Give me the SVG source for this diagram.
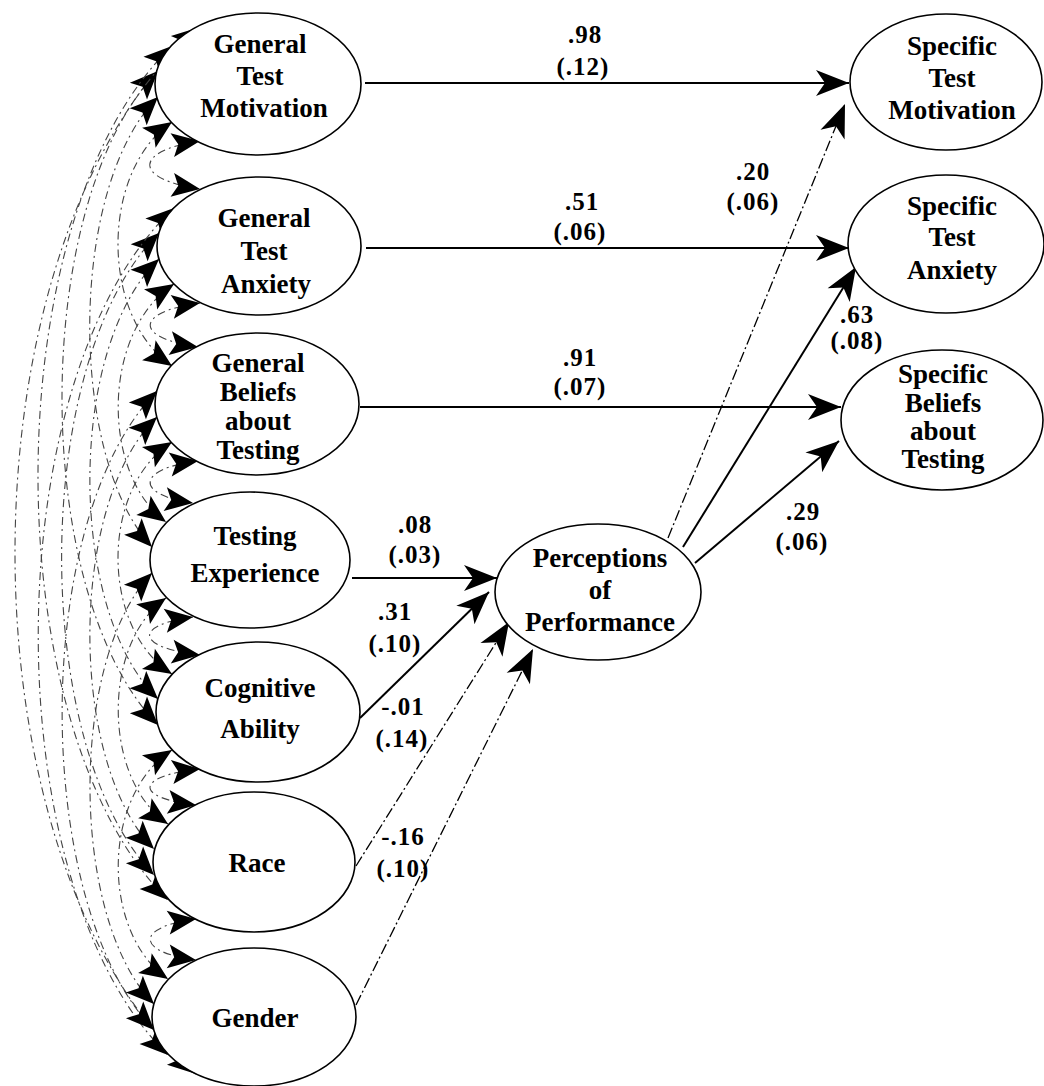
<svg xmlns="http://www.w3.org/2000/svg" width="1044" height="1086" viewBox="0 0 1044 1086">
<style>
.node ellipse{fill:#fff;stroke:#000;stroke-width:1.6}
.node text,.lbl{font-family:"Liberation Serif","Times New Roman",serif;font-weight:bold;fill:#000;text-anchor:middle}
.node text{font-size:27px}
.lbl{font-size:25px;letter-spacing:1px}
.path{fill:none;stroke:#000;stroke-width:2}
.thin{fill:none;stroke:#000;stroke-width:1.3;stroke-dasharray:11 3 2 3}
.cor{fill:none;stroke:#444;stroke-width:1.1;stroke-dasharray:8 4 2 4}
</style>
<defs>
<marker id="ah" markerUnits="userSpaceOnUse" markerWidth="36" markerHeight="28" viewBox="0 0 36 28" refX="34" refY="14" orient="auto-start-reverse">
<path d="M34,14 L1,1 L10,14 L1,27 Z" fill="#000"/>
</marker>
<marker id="ah2" markerUnits="userSpaceOnUse" markerWidth="30" markerHeight="26" viewBox="0 0 30 26" refX="29" refY="13" orient="auto-start-reverse">
<path d="M29,13 L1,1 L7,13 L1,25 Z" fill="#000"/>
</marker>
</defs>
<rect width="1044" height="1086" fill="#fff"/>

<g id="connectors">
<g id="correlations">
<path class="cor" marker-start="url(#ah2)" marker-end="url(#ah2)" d="M200,141 C133,151 133,179 200,189"/>
<path class="cor" marker-start="url(#ah2)" marker-end="url(#ah2)" d="M172,122 C100,171 100,317 172,366"/>
<path class="cor" marker-start="url(#ah2)" marker-end="url(#ah2)" d="M158,97 C68,187 68,457 152,547"/>
<path class="cor" marker-start="url(#ah2)" marker-end="url(#ah2)" d="M158,71 C30,202 30,594 158,725"/>
<path class="cor" marker-start="url(#ah2)" marker-end="url(#ah2)" d="M172,46 C-6,217 -6,729 168,900"/>
<path class="cor" marker-start="url(#ah2)" marker-end="url(#ah2)" d="M200,27 C-46,236 -46,865 196,1074"/>
<path class="cor" marker-start="url(#ah2)" marker-end="url(#ah2)" d="M200,303 C134,312 134,338 198,347"/>
<path class="cor" marker-start="url(#ah2)" marker-end="url(#ah2)" d="M174,284 C101,332 101,474 166,522"/>
<path class="cor" marker-start="url(#ah2)" marker-end="url(#ah2)" d="M159,259 C67,347 67,611 158,699"/>
<path class="cor" marker-start="url(#ah2)" marker-end="url(#ah2)" d="M159,233 C30,361 30,747 154,875"/>
<path class="cor" marker-start="url(#ah2)" marker-end="url(#ah2)" d="M174,208 C-6,377 -6,886 168,1055"/>
<path class="cor" marker-start="url(#ah2)" marker-end="url(#ah2)" d="M198,461 C135,469 135,495 193,503"/>
<path class="cor" marker-start="url(#ah2)" marker-end="url(#ah2)" d="M172,442 C100,488 100,628 172,674"/>
<path class="cor" marker-start="url(#ah2)" marker-end="url(#ah2)" d="M157,417 C68,503 68,763 154,849"/>
<path class="cor" marker-start="url(#ah2)" marker-end="url(#ah2)" d="M157,391 C31,519 31,902 154,1030"/>
<path class="cor" marker-start="url(#ah2)" marker-end="url(#ah2)" d="M193,617 C134,625 134,647 200,655"/>
<path class="cor" marker-start="url(#ah2)" marker-end="url(#ah2)" d="M166,598 C102,643 102,779 168,824"/>
<path class="cor" marker-start="url(#ah2)" marker-end="url(#ah2)" d="M152,573 C69,659 69,918 154,1004"/>
<path class="cor" marker-start="url(#ah2)" marker-end="url(#ah2)" d="M200,769 C134,776 134,798 196,805"/>
<path class="cor" marker-start="url(#ah2)" marker-end="url(#ah2)" d="M172,750 C101,796 101,933 168,979"/>
<path class="cor" marker-start="url(#ah2)" marker-end="url(#ah2)" d="M196,919 C135,927 135,952 196,960"/>
</g>
<g id="paths">
<path class="path" marker-end="url(#ah)" d="M365,83 L849,83"/>
<path class="path" marker-end="url(#ah)" d="M366,248 L849,248"/>
<path class="path" marker-end="url(#ah)" d="M360,407 L841,407"/>
<path class="path" marker-end="url(#ah)" d="M352,578 L497,578"/>
<path class="path" marker-end="url(#ah)" d="M360,718 L489,592"/>
<path class="thin" marker-end="url(#ah)" d="M356,866 L509,622"/>
<path class="thin" marker-end="url(#ah)" d="M356,1005 L533,649"/>
<path class="thin" marker-end="url(#ah)" d="M668,538 L845,104"/>
<path class="path" marker-end="url(#ah)" d="M683,547 L856,267"/>
<path class="path" marker-end="url(#ah)" d="M695,563 L839,441"/>
</g>
<g id="labels">
<text class="lbl" x="585" y="43">.98</text><text class="lbl" x="583" y="75">(.12)</text>
<text class="lbl" x="582" y="210">.51</text><text class="lbl" x="580" y="240">(.06)</text>
<text class="lbl" x="580" y="366">.91</text><text class="lbl" x="580" y="395">(.07)</text>
<text class="lbl" x="753" y="180">.20</text><text class="lbl" x="753" y="210">(.06)</text>
<text class="lbl" x="857" y="323">.63</text><text class="lbl" x="857" y="349">(.08)</text>
<text class="lbl" x="803" y="520">.29</text><text class="lbl" x="802" y="550">(.06)</text>
<text class="lbl" x="415" y="533">.08</text><text class="lbl" x="415" y="563">(.03)</text>
<text class="lbl" x="395" y="620">.31</text><text class="lbl" x="395" y="652">(.10)</text>
<text class="lbl" x="403" y="715">-.01</text><text class="lbl" x="402" y="747">(.14)</text>
<text class="lbl" x="403" y="845">-.16</text><text class="lbl" x="403" y="877">(.10)</text>
</g>
</g>

<g id="general-test-motivation" class="node"><ellipse cx="258" cy="84" rx="103" ry="71"/>
<text x="260" y="53">General</text><text x="260" y="85">Test</text><text x="264" y="117">Motivation</text></g>
<g id="general-test-anxiety" class="node"><ellipse cx="259" cy="246" rx="102" ry="69"/>
<text x="264" y="227">General</text><text x="264" y="260">Test</text><text x="266" y="293">Anxiety</text></g>
<g id="general-beliefs" class="node"><ellipse cx="257" cy="404" rx="102" ry="71"/>
<text x="258" y="372">General</text><text x="258" y="401">Beliefs</text><text x="258" y="430">about</text><text x="258" y="459">Testing</text></g>
<g id="testing-experience" class="node"><ellipse cx="250" cy="560" rx="100" ry="68"/>
<text x="255" y="545">Testing</text><text x="255" y="582">Experience</text></g>
<g id="cognitive-ability" class="node"><ellipse cx="258" cy="712" rx="102" ry="70"/>
<text x="260" y="697">Cognitive</text><text x="260" y="738">Ability</text></g>
<g id="race" class="node"><ellipse cx="254" cy="862" rx="101" ry="70"/>
<text x="257" y="872">Race</text></g>
<g id="gender" class="node"><ellipse cx="254" cy="1017" rx="102" ry="69"/>
<text x="255" y="1027">Gender</text></g>
<g id="perceptions-of-performance" class="node"><ellipse cx="598" cy="592" rx="103" ry="68"/>
<text x="600" y="567">Perceptions</text><text x="600" y="599">of</text><text x="600" y="631">Performance</text></g>
<g id="specific-test-motivation" class="node"><ellipse cx="946" cy="82" rx="96" ry="68"/>
<text x="952" y="55">Specific</text><text x="952" y="87">Test</text><text x="952" y="119">Motivation</text></g>
<g id="specific-test-anxiety" class="node"><ellipse cx="946" cy="244" rx="98" ry="69"/>
<text x="952" y="215">Specific</text><text x="952" y="246">Test</text><text x="952" y="279">Anxiety</text></g>
<g id="specific-beliefs" class="node"><ellipse cx="942" cy="420" rx="101" ry="70"/>
<text x="943" y="383">Specific</text><text x="943" y="412">Beliefs</text><text x="943" y="440">about</text><text x="943" y="468">Testing</text></g>
</svg>
